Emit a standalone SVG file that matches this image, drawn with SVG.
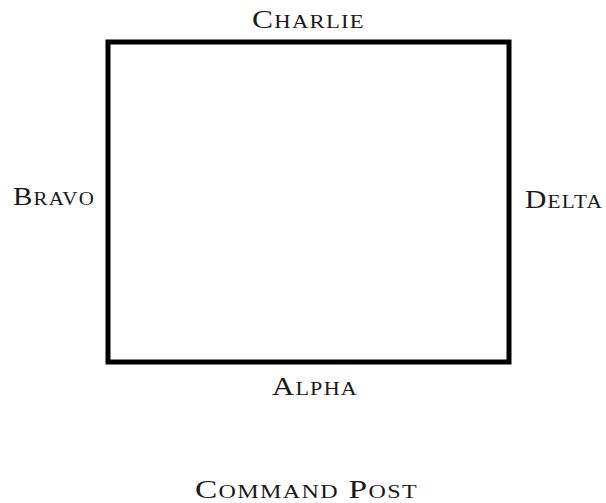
<svg xmlns="http://www.w3.org/2000/svg" width="606" height="503" viewBox="0 0 606 503">
<style>
.lbl{font-family:"Liberation Serif","DejaVu Serif",serif;font-size:25px;font-variant:small-caps;fill:#1a1a1a;letter-spacing:1px}
</style>
<rect width="606" height="503" fill="#fff"/>
<g id="connectors">
<rect id="perimeter" x="108" y="42" width="401" height="320" fill="none" stroke="#000" stroke-width="5"/>
</g>
<g id="charlie"><text class="lbl" x="252" y="28" textLength="113" lengthAdjust="spacingAndGlyphs">Charlie</text></g>
<g id="bravo"><text class="lbl" x="13" y="205" textLength="82" lengthAdjust="spacingAndGlyphs">Bravo</text></g>
<g id="delta"><text class="lbl" x="525" y="208" textLength="78" lengthAdjust="spacingAndGlyphs">Delta</text></g>
<g id="alpha"><text class="lbl" x="272" y="395" textLength="86" lengthAdjust="spacingAndGlyphs">Alpha</text></g>
<g id="command-post"><text class="lbl" x="195" y="498" textLength="223" lengthAdjust="spacingAndGlyphs">Command Post</text></g>
</svg>
